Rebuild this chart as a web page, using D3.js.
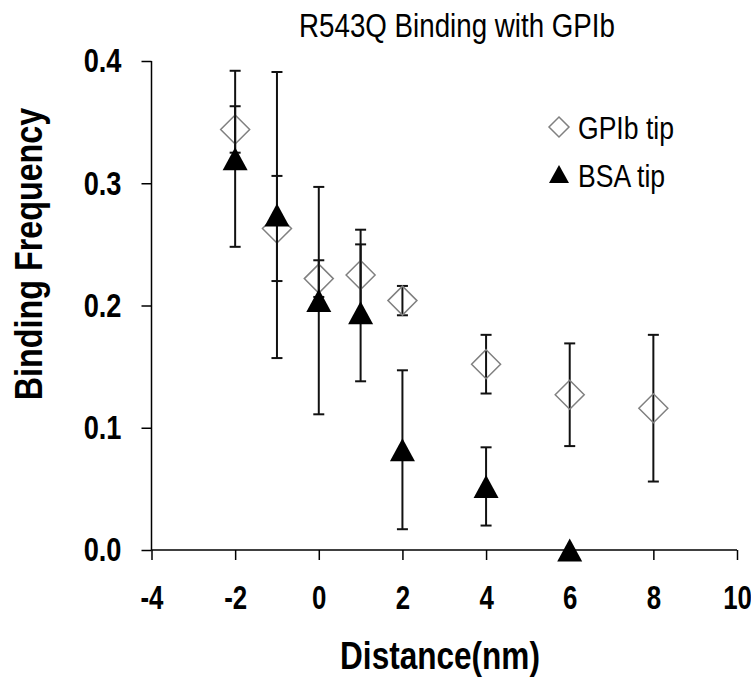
<!DOCTYPE html>
<html>
    <head>
        <meta charset="utf-8">
        <script src="https://d3js.org/d3.v7.min.js"></script>
        <style>
            body { margin: 0; background: #fff; }
            text { font-family: 'Liberation Sans', Arial, sans-serif; fill: #000; }
            .bold { font-weight: bold; }
        </style>
    </head>
    <body>
    <script>
        var w= 751;
        var h= 677;

        // GPIb tip series
        var distGP= [-2, -1, 0, 1, 2, 4, 6, 8]
        var freqGP= [0.344, 0.263, 0.222, 0.225, 0.204, 0.152, 0.127, 0.116]
        var errGP= [0.019, 0.043, 0.015, 0.037, 0.012, 0.024, 0.042, 0.060]

        // BSA tip series
        var distBSA= [-2, -1, 0, 1, 2, 4, 6]
        var freqBSA= [0.320, 0.274, 0.204, 0.194, 0.082, 0.052, 0.0]
        var errBSA= [0.072, 0.117, 0.093, 0.056, 0.065, 0.032, 0]

        var xTicks= [-4, -2, 0, 2, 4, 6, 8, 10]
        var yTicks= [0, 0.1, 0.2, 0.3, 0.4]

        var gp= distGP.map(function(d, i){ return {x: d, y: freqGP[i], e: errGP[i]} })
        var bsa= distBSA.map(function(d, i){ return {x: d, y: freqBSA[i], e: errBSA[i]} })

        var xScale= d3.scaleLinear().domain([-4, 10]).range([151.5, 737])
        var yScale= d3.scaleLinear().domain([0, 0.4]).range([550, 61])

        // the chart's lettering is narrow, squeeze the text to fit
        function squeeze(sel, k){
            sel.each(function(){
                var len= this.getComputedTextLength()
                d3.select(this)
                    .attr('textLength', len * k)
                    .attr('lengthAdjust', 'spacingAndGlyphs')
            })
        }

        var svg= d3.select('body').append('svg')
            .attr('width', w)
            .attr('height', h)

        var xAxisGen= d3.axisBottom(xScale).tickValues(xTicks).tickSize(10).tickFormat(function(d){ return String(d) })
        var yAxisGen= d3.axisLeft(yScale).tickValues(yTicks).tickSize(10).tickFormat(d3.format('.1f'))

        var gx= svg.append('g')
            .attr('transform', 'translate(0,' + yScale(0) + ')')
            .call(xAxisGen)
        var gy= svg.append('g')
            .attr('transform', 'translate(' + xScale(-4) + ',0)')
            .call(yAxisGen)

        ;[gx, gy].forEach(function(g){
            g.select('.domain').attr('stroke', '#000').attr('stroke-width', 1.5)
            g.selectAll('.tick line').attr('stroke', '#000').attr('stroke-width', 1.5)
            g.selectAll('.tick text')
                .attr('class', 'bold')
                .style('font-size', '34px')
                .attr('fill', '#000')
        })
        gx.selectAll('.tick text').attr('y', 35).attr('dy', '0.71em')
        gy.selectAll('.tick text').attr('x', -30)
        squeeze(gx.selectAll('.tick text'), 0.76)
        squeeze(gy.selectAll('.tick text'), 0.8)
        // axis lines without outer ticks
        gx.select('.domain').attr('d', 'M' + xScale(-4) + ',0H' + xScale(10))
        gy.select('.domain').attr('d', 'M0,' + yScale(0) + 'V' + yScale(0.4))

        function errorBars(data){
            var g= svg.append('g').attr('stroke', '#111').attr('stroke-width', 2)
            data.filter(function(d){ return d.e > 0 }).forEach(function(d){
                var cx= xScale(d.x)
                var top= yScale(d.y + d.e)
                var bot= yScale(d.y - d.e)
                g.append('line').attr('x1', cx).attr('x2', cx).attr('y1', top).attr('y2', bot)
                g.append('line').attr('x1', cx - 5.5).attr('x2', cx + 5.5).attr('y1', top).attr('y2', top)
                g.append('line').attr('x1', cx - 5.5).attr('x2', cx + 5.5).attr('y1', bot).attr('y2', bot)
            })
        }

        function diamond(r){
            return 'M0,' + (-r) + 'L' + r + ',0L0,' + r + 'L' + (-r) + ',0Z'
        }
        function triangle(hw, hh){
            return 'M0,' + (-hh) + 'L' + hw + ',' + hh + 'L' + (-hw) + ',' + hh + 'Z'
        }

        errorBars(gp)
        svg.append('g').selectAll('path')
            .data(gp)
            .join('path')
            .attr('d', diamond(14.5))
            .attr('transform', function(d){ return 'translate(' + xScale(d.x) + ',' + yScale(d.y) + ')' })
            .attr('fill', 'none')
            .attr('stroke', '#808080')
            .attr('stroke-width', 1.5)

        errorBars(bsa)
        svg.append('g').selectAll('path')
            .data(bsa)
            .join('path')
            .attr('d', triangle(12.5, 11.5))
            .attr('transform', function(d){ return 'translate(' + xScale(d.x) + ',' + yScale(d.y) + ')' })
            .attr('fill', '#000')

        // legend
        var legend= svg.append('g')
        legend.append('path')
            .attr('d', diamond(10))
            .attr('transform', 'translate(559,127)')
            .attr('fill', 'none')
            .attr('stroke', '#808080')
            .attr('stroke-width', 1.5)
        legend.append('text')
            .attr('x', 578).attr('y', 127).attr('dy', '0.36em')
            .style('font-size', '32px')
            .text('GPIb tip')
            .call(squeeze, 0.83)
        legend.append('path')
            .attr('d', triangle(10, 9))
            .attr('transform', 'translate(559,174)')
            .attr('fill', '#000')
        legend.append('text')
            .attr('x', 578).attr('y', 175).attr('dy', '0.36em')
            .style('font-size', '32px')
            .text('BSA tip')
            .call(squeeze, 0.83)

        // titles
        svg.append('text')
            .attr('x', 457).attr('y', 37)
            .attr('text-anchor', 'middle')
            .style('font-size', '33px')
            .text('R543Q Binding with GPIb')
            .call(squeeze, 0.84)

        svg.append('text')
            .attr('class', 'bold')
            .attr('x', 440).attr('y', 669)
            .attr('text-anchor', 'middle')
            .style('font-size', '38px')
            .text('Distance(nm)')
            .call(squeeze, 0.83)

        svg.append('text')
            .attr('class', 'bold')
            .attr('transform', 'translate(42,254) rotate(-90)')
            .attr('text-anchor', 'middle')
            .style('font-size', '38px')
            .text('Binding Frequency')
            .call(squeeze, 0.85)
    </script>
    </body>
</html>
